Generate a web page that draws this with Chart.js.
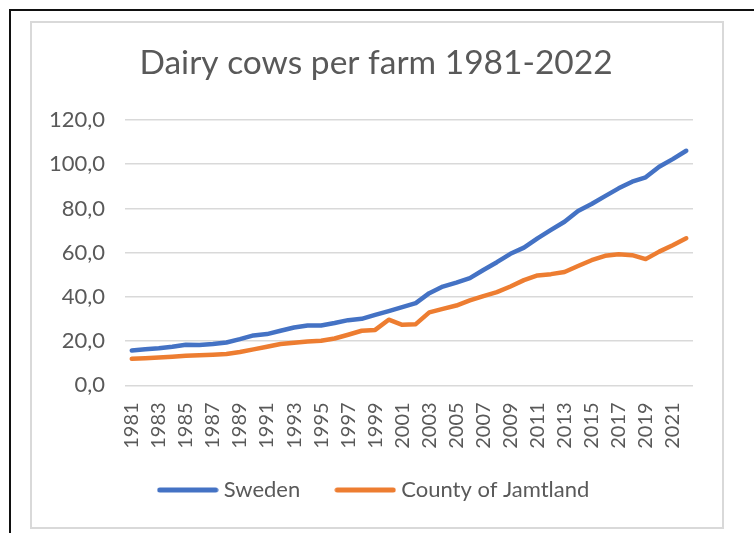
<!DOCTYPE html>
<html>
<head>
<meta charset="utf-8">
<script src="https://cdn.jsdelivr.net/npm/chart.js@4/dist/chart.umd.min.js"></script>
<style>
  html, body { margin: 0; padding: 0; background: #fff; overflow: hidden; }
  #outer { position: absolute; left: 9px; top: 9px; width: 800px; height: 600px;
           border-left: 2px solid #111; border-top: 2px solid #111; box-sizing: border-box; }
  #inner { position: absolute; left: 30px; top: 21px; width: 694px; height: 508px;
           border: 2px solid #D9D9D9; box-sizing: border-box; }
  #wrap { position: absolute; left: 0; top: 0; width: 754px; height: 533px; }
</style>
</head>
<body>
<div id="outer"></div>
<div id="inner"></div>
<div id="wrap"><canvas id="c" width="754" height="533"></canvas></div>
<script>
const years = [];
for (let y = 1981; y <= 2022; y++) years.push(String(y));

const sweden = [15.8, 16.3, 16.8, 17.5, 18.4, 18.3, 18.7, 19.4, 20.9, 22.6,
                23.2, 24.7, 26.2, 27.1, 27.1, 28.2, 29.5, 30.1, 31.9, 33.6,
                35.4, 37.2, 41.7, 44.7, 46.5, 48.5, 52.2, 55.7, 59.5, 62.3,
                66.5, 70.3, 74.0, 78.9, 82.0, 85.6, 89.1, 92.1, 94.1, 98.9,
                102.3, 106.1];

const jamtland = [12.0, 12.3, 12.6, 13.0, 13.4, 13.6, 13.9, 14.2, 15.1, 16.3,
                  17.5, 18.7, 19.3, 19.9, 20.2, 21.2, 22.9, 24.7, 25.1, 29.7,
                  27.4, 27.7, 33.0, 34.6, 36.1, 38.4, 40.4, 42.2, 44.7, 47.6,
                  49.7, 50.3, 51.3, 54.0, 56.6, 58.6, 59.3, 58.9, 57.1, 60.5,
                  63.4, 66.5];

const seriesNames = ['Sweden', 'County of Jamtland'];
const seriesColors = ['#4472C4', '#ED7D31'];
const titleText = 'Dairy cows per farm 1981-2022';
const FONT = 'Lato, "Open Sans", sans-serif';
const GREY = '#595959';

function legendLine(color) {
  const cv = document.createElement('canvas');
  cv.width = 62; cv.height = 8;
  const g = cv.getContext('2d');
  g.strokeStyle = color; g.lineWidth = 5; g.lineCap = 'round';
  g.beginPath(); g.moveTo(3, 4); g.lineTo(59, 4); g.stroke();
  return cv;
}

function ds(i, values) {
  return { label: seriesNames[i], data: values, borderColor: seriesColors[i], backgroundColor: seriesColors[i],
           borderWidth: 4.5, pointRadius: 0, tension: 0, borderJoinStyle: 'round', borderCapStyle: 'round',
           pointStyle: legendLine(seriesColors[i]) };
}

const noClip = () => undefined;

new Chart(document.getElementById('c'), {
  type: 'line',
  data: { labels: years, datasets: [ds(0, sweden), ds(1, jamtland)] },
  options: {
    responsive: false,
    animation: false,
    devicePixelRatio: 1,
    layout: { padding: { left: 59, right: 61, top: 0, bottom: 22 } },
    plugins: {
      title: { display: true, text: titleText, color: GREY,
               font: { family: FONT, size: 33.5, weight: 'normal', lineHeight: 1.2 },
               padding: { top: 43, bottom: 36.8 } },
      legend: { position: 'bottom',
                labels: { usePointStyle: true, pointStyleWidth: 50, color: GREY, padding: 40,
                          font: { family: FONT, size: 22 } } },
      tooltip: { enabled: false }
    },
    scales: {
      x: {
        offset: true,
        grid: { display: false, drawTicks: false },
        border: { display: false },
        ticks: { autoSkip: false, maxRotation: 90, minRotation: 90, padding: 17, color: GREY,
                 font: { family: FONT, size: 20 },
                 callback: function(v, i) { return i % 2 === 0 ? this.getLabelForValue(v) : ''; } },
        afterFit: s => { s.height = 53.6; s.paddingLeft = 0; s.paddingRight = 0; s._computeLabelArea = noClip; }
      },
      y: {
        min: 0, max: 120,
        grid: { color: '#D9D9D9', lineWidth: 1.5, drawTicks: false },
        border: { display: false },
        ticks: { stepSize: 20, padding: 20, color: GREY, font: { family: FONT, size: 22 },
                 callback: v => v.toFixed(1).replace('.', ',') },
        afterFit: s => { s.width = 66; s.paddingTop = 0; s.paddingBottom = 0; s._computeLabelArea = noClip; }
      }
    }
  }
});
</script>
</body>
</html>
